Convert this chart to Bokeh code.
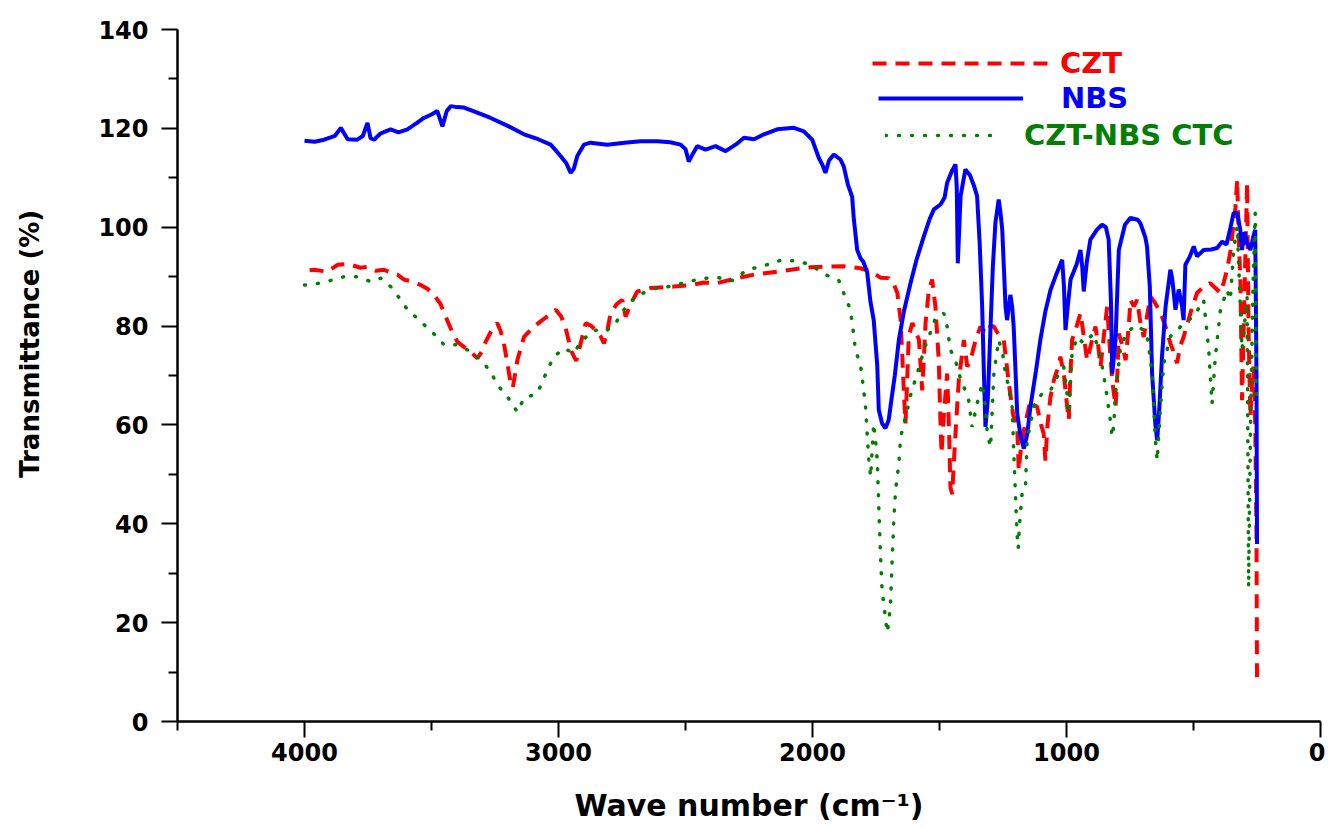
import math
from bokeh.plotting import figure
from bokeh.models import Range1d, FixedTicker, Legend, LegendItem
from bokeh.embed import file_html
from bokeh.resources import INLINE

# ---------------- data ----------------
nbs_wn = [4000, 3960, 3923, 3880, 3857, 3830, 3792, 3770, 3752, 3740, 3726, 3700, 3661, 3630, 3595,
          3560, 3530, 3500, 3477, 3457, 3440, 3424, 3400, 3372, 3320, 3267, 3200, 3136, 3080, 3031,
          3010, 2992, 2970, 2952, 2940, 2926, 2900, 2874, 2808, 2740, 2677, 2611, 2560, 2519, 2500,
          2487, 2475, 2454, 2421, 2382, 2342, 2300, 2270, 2230, 2191, 2139, 2073, 2034, 2001, 1975,
          1960, 1949, 1935, 1916, 1890, 1877, 1860, 1844, 1837, 1824, 1811, 1800, 1785, 1772, 1759,
          1745, 1739, 1726, 1713, 1700, 1693, 1676, 1660, 1640, 1614, 1590, 1562, 1540, 1522, 1496,
          1480, 1470, 1450, 1437, 1432, 1428, 1422, 1417, 1398, 1380, 1365, 1352, 1342, 1332, 1325,
          1319, 1310, 1299, 1290, 1280, 1267, 1260, 1253, 1245, 1240, 1234, 1221, 1214, 1208, 1200,
          1194, 1180, 1168, 1155, 1142, 1120, 1103, 1083, 1063, 1040, 1017, 1010, 1004, 995, 984,
          960, 945, 938, 932, 920, 906, 880, 860, 845, 834, 825, 820, 813, 807, 800, 794, 770, 748,
          720, 709, 690, 683, 672, 663, 650, 643, 635, 624, 610, 591, 584, 571, 558, 545, 539, 532,
          515, 499, 486, 460, 430, 407, 387, 370, 355, 342, 328, 316, 309, 300, 290, 276, 265, 257,
          252, 250]
nbs_t = [117.5, 117.3, 117.7, 118.5, 120.1, 117.8, 117.7, 118.5, 121.1, 118.0, 117.7, 119.0, 119.8, 119.2, 119.8,
         121.0, 122.1, 122.8, 123.5, 120.4, 123.5, 124.5, 124.3, 124.2, 123.2, 122.1, 120.5, 118.8, 117.8, 116.7,
         115.5, 114.4, 113.0, 111.0, 111.8, 114.4, 116.7, 117.1, 116.7, 117.1, 117.4, 117.4, 117.2, 116.7, 115.8,
         113.3, 114.5, 116.4, 115.7, 116.4, 115.4, 116.8, 118.1, 117.8, 118.8, 119.8, 120.1, 119.4, 117.7, 114.0,
         112.5, 111.0, 113.5, 114.7, 113.7, 112.3, 108.5, 106.2, 101.5, 95.4, 93.7, 93.0, 91.0, 85.0, 81.2,
         72.0, 63.0, 60.3, 59.3, 61.0, 63.7, 70.0, 77.2, 83.0, 88.7, 93.5, 98.1, 101.5, 103.6, 104.6,
         106.0, 109.0, 111.5, 112.7, 108.0, 92.7, 100.0, 106.3, 111.7, 110.5, 108.5, 106.3, 97.0, 83.9, 70.0,
         59.6, 65.0, 79.9, 92.0, 100.8, 105.6, 103.0, 99.5, 90.0, 83.9, 81.2, 86.3, 84.0, 79.9, 70.0,
         62.3, 57.5, 55.2, 58.0, 63.7, 71.0, 77.2, 83.0, 87.3, 90.5, 93.4, 88.0, 79.2, 84.0, 89.4,
         92.5, 95.4, 92.0, 87.0, 93.0, 97.5, 99.5, 100.5, 100.0, 97.5, 85.0, 70.4, 74.0, 77.2, 87.0, 95.4, 100.5, 101.9,
         101.5, 100.8, 98.0, 96.1, 88.0, 70.4, 60.0, 56.9, 63.0, 73.8, 83.9, 91.4, 89.7, 83.3, 87.4, 84.0, 81.2, 92.4,
         94.0, 96.1, 94.1, 95.4, 95.5, 95.8, 97.1, 96.5, 99.8, 102.9, 102.9, 99.5, 95.4, 99.0, 97.0, 95.4, 98.0, 99.5,
         70.0, 35.9]

czt_wn = [3980, 3962, 3910, 3870, 3840, 3818, 3780, 3752, 3720, 3687, 3660, 3634, 3608, 3575, 3542,
          3515, 3490, 3465, 3444, 3420, 3398, 3365, 3340, 3319, 3300, 3287, 3260, 3241, 3228, 3215,
          3200, 3188, 3180, 3162, 3136, 3097, 3064, 3030, 3011, 2990, 2972, 2950, 2939, 2930, 2919,
          2893, 2870, 2854, 2835, 2821, 2808, 2795, 2770, 2749, 2736, 2720, 2690, 2637, 2546, 2480,
          2428, 2375, 2296, 2231, 2139, 2086, 2008, 1955, 1877, 1811, 1770, 1732, 1700, 1680, 1666,
          1653, 1647, 1640, 1634, 1628, 1621, 1607, 1594, 1581, 1568, 1562, 1555, 1542, 1529, 1516,
          1503, 1496, 1492, 1483, 1470, 1462, 1457, 1450, 1444, 1437, 1424, 1404, 1391, 1378, 1365,
          1352, 1339, 1325, 1312, 1300, 1286, 1265, 1247, 1227, 1210, 1194, 1188, 1180, 1168, 1155,
          1142, 1129, 1116, 1100, 1090, 1083, 1075, 1063, 1050, 1037, 1024, 1010, 998, 991, 985,
          978, 960, 945, 932, 919, 900, 886, 875, 866, 853, 840, 830, 820, 807, 800, 794, 780, 767,
          755, 748, 735, 722, 710, 696, 683, 670, 655, 643, 625, 610, 591, 580, 565, 552, 539, 510,
          486, 460, 434, 410, 394, 380, 368, 355, 348, 335, 328, 322, 315, 309, 300, 289, 283, 276,
          270, 263, 257, 252, 250]
czt_t = [91.3, 91.4, 91.0, 92.4, 92.5, 92.4, 91.8, 92.0, 91.2, 91.4, 90.8, 90.4, 89.4, 89.0, 88.3,
         87.5, 86.3, 84.5, 81.9, 79.0, 76.8, 75.5, 74.5, 73.5, 75.0, 76.8, 79.5, 80.6, 79.0, 76.5,
         72.0, 68.4, 67.5, 73.1, 77.8, 79.9, 81.2, 82.5, 83.3, 82.0, 79.6, 75.0, 73.8, 73.0, 75.2,
         80.6, 80.0, 79.2, 78.0, 76.5, 79.0, 82.6, 84.5, 85.3, 81.9, 84.0, 87.0, 87.7, 88.0, 88.3,
         88.8, 88.7, 89.7, 90.4, 91.0, 91.4, 91.9, 92.0, 92.1, 91.7, 91.0, 89.8, 89.7, 88.5, 86.7,
         81.2, 74.5, 66.4, 60.3, 68.0, 78.0, 80.6, 79.0, 77.2, 67.0, 73.0, 80.6, 87.3, 89.4, 83.9,
         73.1, 60.3, 54.2, 62.0, 70.4, 58.0, 47.4, 46.0, 52.0, 58.3, 69.1, 77.2, 71.8, 73.0, 75.8,
         78.0, 79.9, 79.0, 78.5, 80.0, 79.9, 78.0, 77.2, 68.4, 62.0, 59.6, 50.8, 55.0, 58.9, 62.0,
         65.0, 64.0, 63.7, 60.0, 58.3, 52.8, 60.0, 65.7, 69.0, 71.1, 73.8, 70.0, 64.0, 61.0, 70.0,
         77.2, 80.0, 82.6, 78.0, 73.1, 77.0, 79.9, 76.0, 71.8, 78.0, 83.9, 76.0, 69.1, 63.7, 70.0, 78.5, 76.0, 73.1,
         80.0, 85.3, 84.0, 85.3, 81.0, 77.8, 82.0, 86.0, 85.0, 83.9, 82.0, 79.9, 76.5, 75.0, 72.5, 76.0, 77.8, 83.0,
         86.7, 88.0, 88.7, 87.5, 86.7, 89.0, 91.4, 95.0, 98.1, 104.0, 109.6, 98.0, 88.7, 65.0, 85.0, 109.0, 78.5, 61.6,
         68.0, 71.8, 60.0, 38.0, 8.2]

ctc_wn = [4000, 3995, 3936, 3884, 3844, 3792, 3739, 3700, 3661, 3621, 3589, 3555, 3516, 3477, 3451,
          3398, 3359, 3313, 3267, 3241, 3201, 3162, 3136, 3083, 3044, 3018, 2979, 2939, 2913, 2860,
          2815, 2775, 2742, 2696, 2631, 2565, 2500, 2447, 2382, 2316, 2257, 2191, 2126, 2060, 2008,
          1949, 1896, 1877, 1853, 1844, 1831, 1811, 1804, 1791, 1785, 1778, 1771, 1765, 1759, 1752,
          1745, 1739, 1732, 1726, 1713, 1706, 1700, 1693, 1687, 1680, 1673, 1660, 1653, 1640, 1627,
          1614, 1594, 1575, 1562, 1542, 1516, 1483, 1470, 1457, 1437, 1424, 1404, 1385, 1372, 1352,
          1332, 1319, 1312, 1299, 1286, 1267, 1250, 1240, 1234, 1214, 1208, 1201, 1195, 1190, 1185,
          1175, 1162, 1155, 1129, 1096, 1063, 1037, 1011, 998, 991, 978, 958, 932, 893, 866, 846,
          830, 820, 814, 807, 787, 761, 722, 683, 663, 650, 643, 630, 617, 590, 565, 539, 499, 460,
          440, 427, 414, 401, 394, 368, 355, 342, 328, 309, 289, 283, 276, 265, 257, 252]
ctc_t = [88.3, 88.3, 88.7, 89.4, 90.0, 90.0, 89.0, 89.7, 88.0, 85.3, 82.9, 81.6, 79.6, 77.8, 76.2,
         76.2, 75.2, 73.5, 70.8, 68.1, 65.7, 62.6, 65.4, 66.4, 71.1, 73.8, 75.5, 74.5, 76.8, 79.2,
         78.9, 80.6, 83.3, 86.0, 87.5, 88.0, 88.8, 89.5, 89.9, 89.2, 91.4, 92.2, 93.3, 93.2, 92.4,
         90.4, 89.2, 86.7, 83.6, 80.9, 75.2, 72.1, 69.4, 63.7, 58.3, 52.8, 49.5, 55.0, 60.3, 57.0,
         52.8, 43.4, 33.2, 26.5, 21.1, 18.0, 20.0, 23.8, 31.9, 40.7, 46.8, 52.2, 57.6, 60.3, 63.0,
         66.0, 69.4, 72.5, 75.2, 77.8, 81.6, 82.6, 79.9, 75.2, 73.1, 70.4, 67.7, 65.0, 59.6, 64.3,
         68.4, 63.7, 58.3, 55.5, 70.4, 77.2, 74.0, 70.4, 69.1, 63.7, 54.9, 46.1, 38.0, 35.0, 40.0,
         46.0, 46.8, 56.9, 63.7, 66.4, 67.0, 69.7, 71.8, 66.4, 62.3, 74.5, 77.8, 76.5, 78.5, 73.8, 67.7,
         62.0, 57.6, 60.0, 66.4, 75.8, 78.9, 80.2, 78.5, 70.4, 56.9, 52.8, 63.7, 72.5, 78.0, 79.0, 80.6, 81.9, 85.3,
         75.2, 64.3, 73.8, 79.9, 83.3, 87.3, 85.3, 95.4, 100.2, 75.2, 86.0, 27.1, 58.3, 90.0, 102.9, 65.0]

x_major = [0, 1000, 2000, 3000, 4000]
x_minor = [500, 1500, 2500, 3500, 4500]
y_major = [0, 20, 40, 60, 80, 100, 120, 140]
y_minor = [10, 30, 50, 70, 90, 110, 130]

RED, BLUE, GREEN = "#ff0000", "#0000ff", "#008000"
FONT = "DejaVu Sans"

# ---------------- figure ----------------
p = figure(width=1325, height=826, output_backend="svg", toolbar_location=None,
           x_range=Range1d(4500, 0), y_range=Range1d(0, 140),
           min_border_left=177, min_border_right=5, min_border_top=29, min_border_bottom=105)
p.outline_line_color = None
p.xgrid.visible = False
p.ygrid.visible = False
p.background_fill_color = "white"

r_czt = p.line(czt_wn, czt_t, line_color=RED, line_width=4, line_dash="14 9")
r_nbs = p.line(nbs_wn, nbs_t, line_color=BLUE, line_width=4)
r_ctc = p.line(ctc_wn, ctc_t, line_color=GREEN, line_width=3.5, line_dash="1 12", line_cap="round")

for ax in (p.xaxis[0], p.yaxis[0]):
    ax.axis_line_width = 2.5
    ax.axis_line_color = "black"
    ax.major_tick_line_width = 2
    ax.minor_tick_line_width = 2
    ax.major_tick_line_color = "black"
    ax.minor_tick_line_color = "black"
    ax.major_tick_in = 0
    ax.minor_tick_in = 0
    ax.major_tick_out = 16
    ax.minor_tick_out = 9
    ax.major_label_text_font = FONT
    ax.major_label_text_font_style = "bold"
    ax.major_label_text_font_size = "24px"
    ax.major_label_text_color = "black"
    ax.axis_label_text_font = FONT
    ax.axis_label_text_font_style = "bold"
    ax.axis_label_text_color = "black"

p.xaxis[0].ticker = FixedTicker(ticks=x_major, minor_ticks=x_minor)
p.yaxis[0].ticker = FixedTicker(ticks=y_major, minor_ticks=y_minor)
p.xaxis[0].major_label_standoff = 5
p.yaxis[0].major_label_standoff = 13

p.xaxis[0].axis_label = "Wave number (cm\u207b\u00b9)"
p.xaxis[0].axis_label_text_font_size = "30px"
p.xaxis[0].axis_label_standoff = 24

# leading no-break spaces move the rotated title up to where it sits in the reference
p.yaxis[0].axis_label = "\u00a0" * 7 + "Transmittance (%)"
p.yaxis[0].axis_label_text_font_size = "26px"
p.yaxis[0].axis_label_standoff = 50


def add_legend(label, rend, color, vx, vy, gw, standoff):
    leg = Legend(items=[LegendItem(label=label, renderers=[rend])], location=(vx, vy),
                 orientation="vertical", border_line_color=None, background_fill_alpha=0,
                 padding=0, margin=0, spacing=0, glyph_width=gw, glyph_height=34,
                 label_height=34, label_standoff=standoff, label_text_color=color,
                 label_text_font=FONT, label_text_font_style="bold", label_text_font_size="29px")
    p.add_layout(leg)


add_legend("CZT", r_czt, RED, 695, 641, 178, 10)
add_legend("NBS", r_nbs, BLUE, 701, 606, 145, 38)
add_legend("CZT-NBS CTC", r_ctc, GREEN, 708, 569, 107, 32)

open("out.html", "w").write(file_html(p, INLINE))
